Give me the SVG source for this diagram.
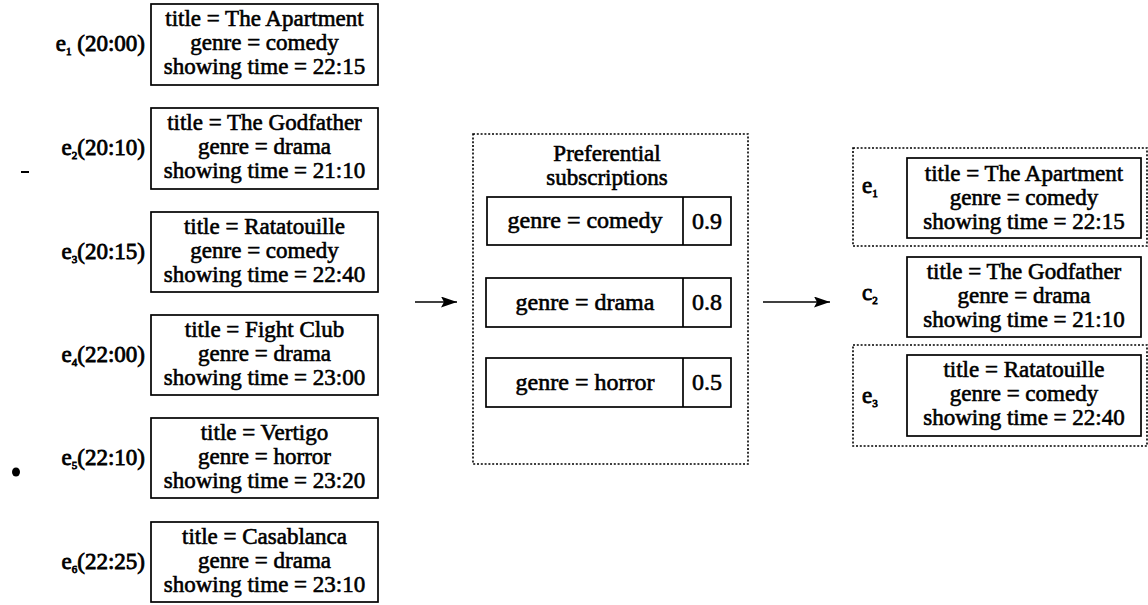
<svg xmlns="http://www.w3.org/2000/svg" width="1148" height="605" viewBox="0 0 1148 605">
<style>
text{font-family:"Liberation Serif","Times New Roman",serif;fill:#000;stroke:#000;stroke-width:0.6}
.t{font-size:23px;text-anchor:middle}
.r{font-size:24px;text-anchor:middle}
.lab{font-size:23px;text-anchor:end;stroke-width:0.8}
.lab2{font-size:23px;stroke-width:0.8}
.sub{font-size:11px}
.box{fill:#fff;stroke:#000;stroke-width:1.7}
.dash{fill:none;stroke:#000;stroke-width:1.6;stroke-dasharray:2 1.8}
.conn{stroke:#000;stroke-width:1.7;fill:none}
</style>
<defs>
<marker id="ah" viewBox="0 0 16 11" refX="16" refY="5.5" markerWidth="16" markerHeight="11" markerUnits="userSpaceOnUse" orient="auto">
<path d="M0,0 L16,5.5 L0,11 L3,5.5 Z" fill="#000"/>
</marker>
</defs>
<rect width="1148" height="605" fill="#fff"/>

<g id="e1">
<rect class="box" x="151" y="4" width="227" height="81"/>
<text class="t" x="264.5" y="26">title = The Apartment</text>
<text class="t" x="264.5" y="50">genre = comedy</text>
<text class="t" x="264.5" y="74">showing time = 22:15</text>
<text class="lab" x="145" y="51">e<tspan class="sub" dy="4">1</tspan><tspan dy="-4"> (20:00)</tspan></text>
</g>
<g id="e2">
<rect class="box" x="151" y="108" width="227" height="81"/>
<text class="t" x="264.5" y="130">title = The Godfather</text>
<text class="t" x="264.5" y="154">genre = drama</text>
<text class="t" x="264.5" y="178">showing time = 21:10</text>
<text class="lab" x="145" y="155">e<tspan class="sub" dy="4">2</tspan><tspan dy="-4">(20:10)</tspan></text>
</g>
<g id="e3">
<rect class="box" x="151" y="212" width="227" height="80"/>
<text class="t" x="264.5" y="234">title = Ratatouille</text>
<text class="t" x="264.5" y="258">genre = comedy</text>
<text class="t" x="264.5" y="282">showing time = 22:40</text>
<text class="lab" x="145" y="259">e<tspan class="sub" dy="4">3</tspan><tspan dy="-4">(20:15)</tspan></text>
</g>
<g id="e4">
<rect class="box" x="151" y="315" width="227" height="80"/>
<text class="t" x="264.5" y="337">title = Fight Club</text>
<text class="t" x="264.5" y="361">genre = drama</text>
<text class="t" x="264.5" y="385">showing time = 23:00</text>
<text class="lab" x="145" y="362">e<tspan class="sub" dy="4">4</tspan><tspan dy="-4">(22:00)</tspan></text>
</g>
<g id="e5">
<rect class="box" x="151" y="418" width="227" height="80"/>
<text class="t" x="264.5" y="440">title = Vertigo</text>
<text class="t" x="264.5" y="464">genre = horror</text>
<text class="t" x="264.5" y="488">showing time = 23:20</text>
<text class="lab" x="145" y="465">e<tspan class="sub" dy="4">5</tspan><tspan dy="-4">(22:10)</tspan></text>
</g>
<g id="e6">
<rect class="box" x="151" y="522" width="227" height="80"/>
<text class="t" x="264.5" y="544">title = Casablanca</text>
<text class="t" x="264.5" y="568">genre = drama</text>
<text class="t" x="264.5" y="592">showing time = 23:10</text>
<text class="lab" x="145" y="569">e<tspan class="sub" dy="4">6</tspan><tspan dy="-4">(22:25)</tspan></text>
</g>

<g id="marks">
<rect x="21" y="171" width="8" height="2" fill="#000"/>
<ellipse cx="16" cy="472" rx="4" ry="4.5" fill="#000"/>
</g>

<g id="subscriptions">
<rect class="dash" x="473" y="134" width="275" height="330"/>
<text class="t" x="607" y="161">Preferential</text>
<text class="t" x="607" y="185">subscriptions</text>
<g id="s1">
<rect class="box" x="487" y="197" width="244" height="48"/>
<line class="conn" x1="683" y1="197" x2="683" y2="245"/>
<text class="r" x="585" y="228">genre = comedy</text>
<text class="r" x="707" y="229">0.9</text>
</g>
<g id="s2">
<rect class="box" x="486" y="278" width="245" height="49"/>
<line class="conn" x1="683" y1="278" x2="683" y2="327"/>
<text class="r" x="585" y="310">genre = drama</text>
<text class="r" x="707" y="310">0.8</text>
</g>
<g id="s3">
<rect class="box" x="486" y="358" width="245" height="49"/>
<line class="conn" x1="683" y1="358" x2="683" y2="407"/>
<text class="r" x="585" y="390">genre = horror</text>
<text class="r" x="707" y="390">0.5</text>
</g>
</g>

<g id="result">
<rect class="dash" x="853" y="148" width="294" height="98"/>
<rect class="dash" x="853" y="345" width="294" height="101"/>
<g id="r1">
<rect class="box" x="907" y="158" width="234" height="80"/>
<text class="t" x="1024" y="181">title = The Apartment</text>
<text class="t" x="1024" y="205">genre = comedy</text>
<text class="t" x="1024" y="229">showing time = 22:15</text>
<text class="lab2" x="862" y="193">e<tspan class="sub" dy="4">1</tspan></text>
</g>
<g id="r2">
<rect class="box" x="907" y="257" width="234" height="80"/>
<text class="t" x="1024" y="279">title = The Godfather</text>
<text class="t" x="1024" y="303">genre = drama</text>
<text class="t" x="1024" y="327">showing time = 21:10</text>
<text class="lab2" x="862" y="300">c<tspan class="sub" dy="4">2</tspan></text>
</g>
<g id="r3">
<rect class="box" x="907" y="355" width="234" height="81"/>
<text class="t" x="1024" y="377">title = Ratatouille</text>
<text class="t" x="1024" y="401">genre = comedy</text>
<text class="t" x="1024" y="425">showing time = 22:40</text>
<text class="lab2" x="862" y="403">e<tspan class="sub" dy="4">3</tspan></text>
</g>
</g>

<g id="connectors">
<line class="conn" x1="415" y1="302" x2="457" y2="302" marker-end="url(#ah)"/>
<line class="conn" x1="763" y1="302" x2="830" y2="302" marker-end="url(#ah)"/>
</g>
</svg>
